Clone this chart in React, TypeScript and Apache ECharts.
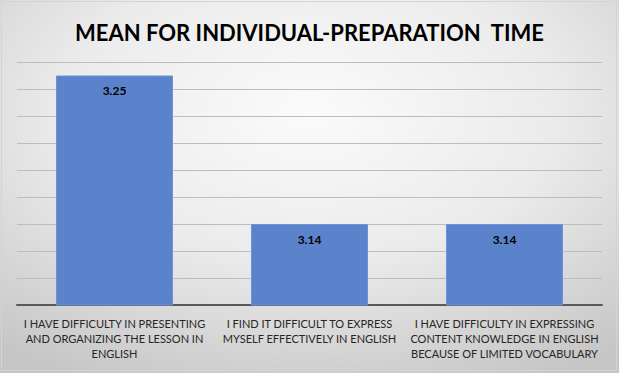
import React, { useEffect, useRef } from "react";
import * as echarts from "echarts";

const titleText = "MEAN FOR INDIVIDUAL-PREPARATION  TIME";
const categories = [
  "I HAVE DIFFICULTY IN PRESENTING\nAND ORGANIZING THE LESSON IN\nENGLISH",
  "I FIND IT DIFFICULT TO EXPRESS\nMYSELF EFFECTIVELY IN ENGLISH",
  "I HAVE DIFFICULTY IN EXPRESSING\nCONTENT KNOWLEDGE IN ENGLISH\nBECAUSE OF LIMITED VOCABULARY",
];
const meanValues = [3.25, 3.14, 3.14];
const yMin = 3.08;
const yMax = 3.26;
const yInterval = 0.02;

export default function App() {
  const ref = useRef<HTMLDivElement>(null);
  useEffect(() => {
    if (!ref.current) return;
    const chart = echarts.init(ref.current, null, { renderer: "svg" });
    chart.setOption({
      animation: false,
      backgroundColor: {
        type: "radial",
        x: 0.5,
        y: 0.3,
        r: 0.8,
        colorStops: [
          { offset: 0, color: "#fbfbfb" },
          { offset: 0.5, color: "#ebebeb" },
          { offset: 1, color: "#c6c6c6" },
        ],
      },
      title: {
        text: titleText,
        left: "center",
        top: 16,
        textStyle: {
          fontFamily: "Lato",
          fontWeight: "bold",
          fontSize: 22,
          color: "#000000",
        },
      },
      graphic: [
        {
          type: "rect",
          shape: { x: 1.5, y: 1.5, width: 615, height: 369 },
          style: { fill: "none", stroke: "#d4d4d4", lineWidth: 1 },
          silent: true,
        },
      ],
      grid: { left: 17, right: 17, top: 62, bottom: 68 },
      xAxis: {
        type: "category",
        data: categories,
        axisLine: { lineStyle: { color: "#595959", width: 2 } },
        axisTick: { show: false },
        axisLabel: {
          interval: 0,
          margin: 11,
          fontFamily: "Lato",
          fontSize: 11,
          lineHeight: 15,
          color: "#262626",
        },
      },
      yAxis: {
        type: "value",
        min: yMin,
        max: yMax,
        interval: yInterval,
        axisLabel: { show: false },
        axisLine: { show: false },
        axisTick: { show: false },
        splitLine: { lineStyle: { color: "#bdbdbd", width: 1 } },
      },
      series: [
        {
          type: "bar",
          data: meanValues,
          barWidth: "60%",
          itemStyle: { color: "#5a83cb", borderColor: "#6d93d6", borderWidth: 1 },
          label: {
            show: true,
            position: "insideTop",
            distance: 9,
            formatter: (p: any) => p.value.toFixed(2),
            fontFamily: "Lato",
            fontWeight: "bold",
            fontSize: 12,
            color: "#000000",
          },
        },
      ],
    });
    return () => chart.dispose();
  }, []);
  return (
    <div
      ref={ref}
      style={{ position: "absolute", left: 0, top: 0, width: 619, height: 373 }}
    />
  );
}
